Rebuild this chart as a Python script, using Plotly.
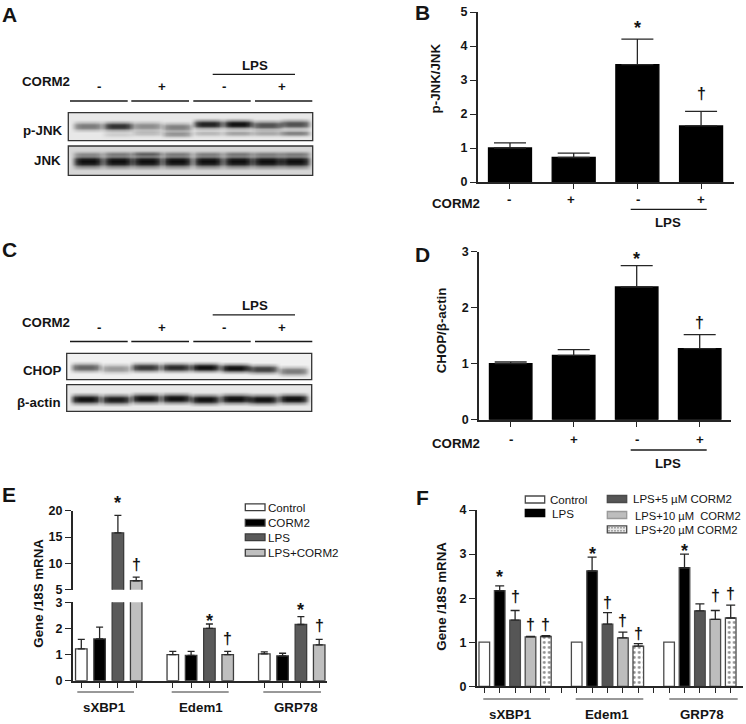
import numpy as np
import plotly.graph_objects as go

W, H = 746, 724
FONT = "Liberation Sans"
INK = "#141414"
AXIS = "#262626"

# ---------- data ----------
LANES_LABELS = ["-", "+", "-", "+"]

PJNK_MAIN = [0.50, 0.85, 0.42, 0.48, 0.92, 1.00, 0.70, 0.70]
PJNK_LOWER = [0.00, 0.12, 0.20, 0.38, 0.22, 0.32, 0.30, 0.48]
JNK_MAIN = [1.00, 1.00, 1.00, 1.00, 1.00, 1.00, 1.00, 1.00]
JNK_UPPER = [0.22, 0.30, 0.45, 0.30, 0.28, 0.32, 0.28, 0.30]
CHOP_BAND = [0.62, 0.38, 0.82, 0.88, 1.00, 1.00, 0.78, 0.52]
ACTIN_BAND = [1.00, 0.95, 1.00, 1.00, 1.00, 1.00, 1.00, 1.00]

B_VALUES = [1.0, 0.72, 3.45, 1.65]
B_ERRORS = [0.15, 0.13, 0.75, 0.43]
D_VALUES = [1.0, 1.15, 2.37, 1.27]
D_ERRORS = [0.03, 0.10, 0.38, 0.25]

GENES = ["sXBP1", "Edem1", "GRP78"]
E_CONTROL = [1.22, 1.00, 1.03]
E_CONTROL_ERR = [0.36, 0.12, 0.07]
E_CORM2 = [1.60, 0.97, 0.95]
E_CORM2_ERR = [0.45, 0.15, 0.10]
E_LPS = [15.8, 2.00, 2.15]
E_LPS_ERR = [3.3, 0.17, 0.30]
E_LPS_CORM2 = [6.7, 1.00, 1.37]
E_LPS_CORM2_ERR = [0.7, 0.12, 0.21]

F_CONTROL = [1.0, 1.0, 1.0]
F_LPS = [2.17, 2.62, 2.69]
F_LPS_ERR = [0.11, 0.31, 0.31]
F_5 = [1.50, 1.41, 1.71]
F_5_ERR = [0.22, 0.26, 0.16]
F_10 = [1.12, 1.10, 1.52]
F_10_ERR = [0.01, 0.13, 0.20]
F_20 = [1.13, 0.91, 1.55]
F_20_ERR = [0.02, 0.06, 0.29]


# ---------- helpers ----------
def xp(px):
    return px / W


def yp(py):
    return 1 - py / H


shapes, annos = [], []


def line(x0, y0, x1, y1, color="#1a1a1a", w=1.3):
    shapes.append(dict(type="line", xref="paper", yref="paper", x0=xp(x0), x1=xp(x1),
                       y0=yp(y0), y1=yp(y1), line=dict(color=color, width=w)))


def rect(x0, y0, x1, y1, fill="rgba(0,0,0,0)", color="#333", w=1.3, layer="above"):
    shapes.append(dict(type="rect", xref="paper", yref="paper", x0=xp(x0), x1=xp(x1),
                       y0=yp(y0), y1=yp(y1), fillcolor=fill, layer=layer,
                       line=dict(color=color, width=w)))


def txt(x, y, s, size=13.3, bold=True, anchor="center", angle=0, color=INK):
    annos.append(dict(text=s, xref="paper", yref="paper", x=xp(x), y=yp(y), showarrow=False,
                      xanchor=anchor, yanchor="middle", textangle=angle,
                      font=dict(family=FONT, size=size, color=color,
                                weight="bold" if bold else "normal"),
                      borderpad=0, borderwidth=0))


def mark(xaxis, yaxis, x, y, sym, gap):
    """Significance mark, its glyph `gap` pixels above the top of the error bar."""
    is_star = sym == "*"
    annos.append(dict(text=sym, xref=xaxis, yref=yaxis, x=x, y=y, showarrow=False,
                      xanchor="center", yanchor="middle",
                      yshift=gap - 3 if is_star else gap + 1.5,
                      font=dict(family=FONT, size=18 if is_star else 16, color=INK, weight="bold")))


fig = go.Figure()
layout = {}


def axes(idx, x_px, y_px, xr, yr, xticks=None, yticks=None, visible=True, xline=True):
    sfx = "" if idx == 1 else str(idx)
    xa = dict(domain=[xp(x_px[0]), xp(x_px[1])], range=xr, anchor="y" + sfx, showgrid=False,
              zeroline=False, visible=visible and xline, showticklabels=False, fixedrange=True,
              showline=True, linecolor=AXIS, linewidth=1.6, ticks="outside", ticklen=5,
              tickwidth=1.3, tickcolor=AXIS, tickmode="array", tickvals=xticks or [])
    ya = dict(domain=[yp(y_px[1]), yp(y_px[0])], range=yr, anchor="x" + sfx, showgrid=False,
              zeroline=False, visible=visible, fixedrange=True,
              showline=True, linecolor=AXIS, linewidth=1.6, ticks="outside", ticklen=6,
              tickwidth=1.3, tickcolor=AXIS, tickmode="array", tickvals=yticks or [],
              tickfont=dict(family=FONT, size=12.5, color=INK, weight="bold"))
    layout["xaxis" + sfx] = xa
    layout["yaxis" + sfx] = ya
    return "x" + sfx, "y" + sfx


def bars(ax, x, y, err, fill, edge, width, cap, ew=1.3, pattern=None):
    marker = dict(color=fill, line=dict(color=edge, width=ew))
    if pattern:
        marker["pattern"] = pattern
    kw = {}
    if err is not None:
        kw["error_y"] = dict(type="data", symmetric=False, array=err, arrayminus=[0] * len(err),
                             color=AXIS, thickness=1.3, width=cap)
    fig.add_trace(go.Bar(x=x, y=y, xaxis=ax[0], yaxis=ax[1], width=width, marker=marker,
                         showlegend=False, hoverinfo="skip", **kw))


# ---------- blots ----------
H_PROFILE_X = [-17, -15, -11, -6, 0, 6, 11, 15, 17]
H_PROFILE = [0.0, 0.3, 0.85, 1.0, 1.0, 1.0, 0.85, 0.3, 0.0]
V_PROFILE_X = [-1.8, -1.0, -0.5, 0.0, 0.5, 1.0, 1.8]
V_PROFILE = [0.0, 0.4, 0.9, 1.0, 0.9, 0.4, 0.0]


def blot(idx, box, lanes, bands, bg):
    x = np.arange(box[0], box[1] + 2, 2.0)
    y = np.arange(box[2], box[3] + 1, 1.0)
    z = np.full((len(y), len(x)), float(bg))
    for dark, ys, half in bands:
        for cx, d, cy in zip(lanes, dark, ys):
            hp = np.interp(x - cx, H_PROFILE_X, H_PROFILE)
            vp = np.interp((y - cy) / half, V_PROFILE_X, V_PROFILE)
            z -= d * (bg - 12) * np.outer(vp, hp)
    z = np.clip(z, 8, 255)
    ax = axes(idx, box[:2], box[2:], [box[0], box[1]], [box[3], box[2]], visible=False)
    fig.add_trace(go.Heatmap(z=z, x=x, y=y, xaxis=ax[0], yaxis=ax[1], zmin=0, zmax=255,
                             colorscale=[[0, "#000000"], [1, "#ffffff"]], showscale=False,
                             zsmooth="best", hoverinfo="skip"))
    rect(box[0], box[2], box[1], box[3])


LANES_A = [88, 118, 147, 177, 208, 238, 267, 295]
LANES_C = [85.7, 115.7, 145.7, 175.7, 205, 235, 263, 293]
blot(6, (68.3, 312.7, 112.7, 140.7), LANES_A,
     [(PJNK_MAIN, [126, 126, 126, 127, 124, 124, 125, 124], 3.6),
      (PJNK_LOWER, [134, 134, 133, 134, 133, 133, 133, 133], 2.4)], 232)
blot(7, (68.3, 312.7, 146, 175.3), LANES_A,
     [(JNK_MAIN, [161.3] * 8, 5.0), (JNK_UPPER, [153.3] * 8, 2.0)], 214)
blot(8, (66.7, 311.7, 353.3, 379.7), LANES_C,
     [(CHOP_BAND, [367.3, 368.5, 367.3, 367.3, 367.3, 368, 369, 371], 3.6)], 240)
blot(9, (66.7, 311.7, 384.7, 411.3), LANES_C,
     [(ACTIN_BAND, [399, 399.3, 398.3, 398.3, 399.3, 398.7, 399.3, 398.7], 4.0)], 232)

for top in (0, 240.5):
    line(212.7, 74.3 + top, 295, 74.3 + top)
    txt(255.3, 65.3 + top, "LPS")
    txt(46, 82 + top, "CORM2")
    ysign = 86.7 + top
    for xs, s in zip([98.7, 162.3, 223.7, 281.7], LANES_LABELS):
        txt(xs, ysign, s)
    yl = 101 + top
    for a, b in [(70, 127.7), (131.3, 189), (193.3, 250.7), (255, 312.3)]:
        line(a, yl, b, yl)
txt(62.5, 130.5, "p-JNK", anchor="right")
txt(61, 161, "JNK", anchor="right")
txt(62, 370.5, "CHOP", anchor="right")
txt(61, 402, "β-actin", anchor="right")

# ---------- panel letters ----------
for x, y, s in [(9.3, 15, "A"), (422.7, 12.5, "B"), (9.3, 249.5, "C"),
                (422.7, 254.5, "D"), (9, 494.5, "E"), (422.7, 497.5, "F")]:
    txt(x, y, s, size=21)

# ---------- B ----------
axb = axes(1, (477.7, 734), (12, 182), [-0.507, 3.517], [0, 5],
           xticks=[0, 1, 2, 3], yticks=[0, 1, 2, 3, 4, 5])
bars(axb, [0, 1, 2, 3], B_VALUES, B_ERRORS, "#000000", "#000000", 0.675, 16)
mark(*axb, 2, B_VALUES[2] + B_ERRORS[2], "*", 14)
mark(*axb, 3, B_VALUES[3] + B_ERRORS[3], "†", 16)
txt(435.7, 78.7, "p-JNK/JNK", angle=-90)
txt(456, 203.3, "CORM2")
for xs, s in zip([509, 571, 637.7, 701], LANES_LABELS):
    txt(xs, 200, s)
line(630.7, 209.3, 706.7, 209.3)
txt(668.3, 222.7, "LPS")

# ---------- D ----------
axd = axes(2, (479, 731), (251.7, 419.7), [-0.51, 3.49], [0, 3],
           xticks=[0, 1, 2, 3], yticks=[0, 1, 2, 3])
layout["xaxis2"]["range"] = [(479 - 510.7) / 63, (731 - 510.7) / 63]
bars(axd, [0, 1, 2, 3], D_VALUES, D_ERRORS, "#000000", "#000000", 0.675, 16)
mark(*axd, 2, D_VALUES[2] + D_ERRORS[2], "*", 10)
mark(*axd, 3, D_VALUES[3] + D_ERRORS[3], "†", 11)
txt(441.3, 330, "CHOP/β-actin", angle=-90)
txt(456, 443.3, "CORM2")
for xs, s in zip([510.7, 573.7, 637, 699.7], LANES_LABELS):
    txt(xs, 439.7, s)
line(630.7, 450, 706.7, 450)
txt(668.3, 463.7, "LPS")

# ---------- E (broken axis) ----------
E_X_RANGE = [(72.7 - 81.3) / 18.3, (326.7 - 81.3) / 18.3]
E_TICKS = [0, 1, 2, 3, 5, 6, 7, 8, 10, 11, 12, 13]
axe = axes(3, (72.7, 326.7), (602.3, 680.7), E_X_RANGE, [0, 3], xticks=E_TICKS, yticks=[0, 1, 2, 3])
axu = axes(4, (72.7, 326.7), (510.7, 589.7), E_X_RANGE, [5, 20], yticks=[5, 10, 15, 20], xline=False)
E_EDGE = "#3c3c3c"
E_SERIES = [("Control", E_CONTROL, E_CONTROL_ERR, "#ffffff", 0),
            ("CORM2", E_CORM2, E_CORM2_ERR, "#000000", 1),
            ("LPS", E_LPS, E_LPS_ERR, "#5a5a5a", 2),
            ("LPS+CORM2", E_LPS_CORM2, E_LPS_CORM2_ERR, "#bfbfbf", 3)]
for name, vals, errs, fill, off in E_SERIES:
    xs = [off, off + 5, off + 10]
    bars(axe, xs, vals, errs, fill, E_EDGE, 0.63, 3.5)
    if off >= 2:
        bars(axu, xs[:1], vals[:1], errs[:1], fill, E_EDGE, 0.63, 3.5)
mark(*axu, 2, E_LPS[0] + E_LPS_ERR[0], "*", 15)
mark(*axu, 3, E_LPS_CORM2[0] + E_LPS_CORM2_ERR[0], "†", 11)
mark(*axe, 7, E_LPS[1] + E_LPS_ERR[1], "*", 6)
mark(*axe, 8, E_LPS_CORM2[1] + E_LPS_CORM2_ERR[1], "†", 11)
mark(*axe, 12, E_LPS[2] + E_LPS_ERR[2], "*", 10)
mark(*axe, 13, E_LPS_CORM2[2] + E_LPS_CORM2_ERR[2], "†", 12)
txt(37.7, 593, "Gene /18S mRNA", angle=-90)
for cx, g in zip([104, 201, 296], GENES):
    txt(cx, 707.3, g)
for a, b in [(77.3, 134), (171.7, 228.7), (263.3, 321)]:
    line(a, 692, b, 692, color="#333", w=1.0)
for (name, _, _, fill, _), y in zip(E_SERIES, [507.3, 522.7, 537.3, 552.7]):
    rect(245.3, y - 3.4, 265, y + 3.4, fill=fill, color=E_EDGE)
    txt(268.2, y, name, size=11.6, bold=False, anchor="left")

# ---------- F ----------
F_X_RANGE = [(476.7 - 484.3) / 15.4, (742.7 - 484.3) / 15.4]
axf = axes(5, (476.7, 742.7), (510, 686.3), F_X_RANGE, [0, 4],
           xticks=list(range(17)), yticks=[0, 1, 2, 3, 4])
F_EDGE = "#4a4a4a"
DOTS = dict(shape=".", bgcolor="#ffffff", fgcolor="#222222", size=5, solidity=0.25)
F_SERIES = [(F_CONTROL, None, "#ffffff", 0, None),
            (F_LPS, F_LPS_ERR, "#000000", 1, None),
            (F_5, F_5_ERR, "#565656", 2, None),
            (F_10, F_10_ERR, "#bdbdbd", 3, None),
            (F_20, F_20_ERR, "#ffffff", 4, DOTS)]
for vals, errs, fill, off, pat in F_SERIES:
    bars(axf, [off, off + 6, off + 12], vals, errs, fill, F_EDGE, 0.69, 4.5, pattern=pat)
for i, g in enumerate([12, 6.5, 6.5]):
    mark(*axf, 1 + 6 * i, F_LPS[i] + F_LPS_ERR[i], "*", g)
for vals, errs, off, idx, gaps in [(F_5, F_5_ERR, 2, [0, 1], [12, 8.5]),
                                   (F_10, F_10_ERR, 3, [0, 1, 2], [10.5, 10, 13]),
                                   (F_20, F_20_ERR, 4, [0, 1, 2], [10, 9, 10])]:
    for i, g in zip(idx, gaps):
        mark(*axf, off + 6 * i, vals[i] + errs[i], "†", g)
txt(440.7, 596, "Gene /18S mRNA", angle=-90)
for cx, g in zip([510.3, 607.3, 702.3], GENES):
    txt(cx, 714, g)
for a, b in [(483.3, 550), (575.7, 643.3), (669.3, 737.7)]:
    line(a, 699, b, 699, color="#333", w=1.0)

rect(525.3, 496, 544.7, 503, fill="#ffffff", color=F_EDGE)
rect(525.3, 509.5, 544.7, 516.5, fill="#000000", color="#000000")
txt(550.3, 499.3, "Control", size=11.6, bold=False, anchor="left")
txt(551.7, 513, "LPS", size=11.6, bold=False, anchor="left")
rect(607.3, 495.5, 626.7, 502.5, fill="#565656", color=F_EDGE)
rect(607.3, 511.5, 626.7, 518.5, fill="#bdbdbd", color="#999999")
rect(607.3, 525.8, 626.7, 532.8, fill="#e8e8e8", color=F_EDGE)
for dx in np.arange(609, 626, 3):
    for dy in (527.8, 530.8):
        shapes.append(dict(type="circle", xref="paper", yref="paper",
                           x0=xp(dx - .6), x1=xp(dx + .6), y0=yp(dy - .6), y1=yp(dy + .6),
                           fillcolor="#222", line=dict(width=0)))
txt(633.3, 499.3, "LPS+5 µM CORM2", size=11.5, bold=False, anchor="left")
txt(634.7, 515.6, "LPS+10 µM  CORM2", size=11.2, bold=False, anchor="left")
txt(634.7, 530.4, "LPS+20 µM CORM2", size=11.2, bold=False, anchor="left")

fig.update_layout(width=W, height=H, margin=dict(l=0, r=0, t=0, b=0, pad=0, autoexpand=False),
                  barmode="overlay",
                  paper_bgcolor="#ffffff", plot_bgcolor="rgba(0,0,0,0)", showlegend=False,
                  shapes=shapes, annotations=annos, hovermode=False,
                  font=dict(family=FONT), **layout)

fig.write_html("out.html", config=dict(displayModeBar=False, responsive=False),
               post_script="document.body.style.margin='0';document.body.style.overflow='hidden';")
